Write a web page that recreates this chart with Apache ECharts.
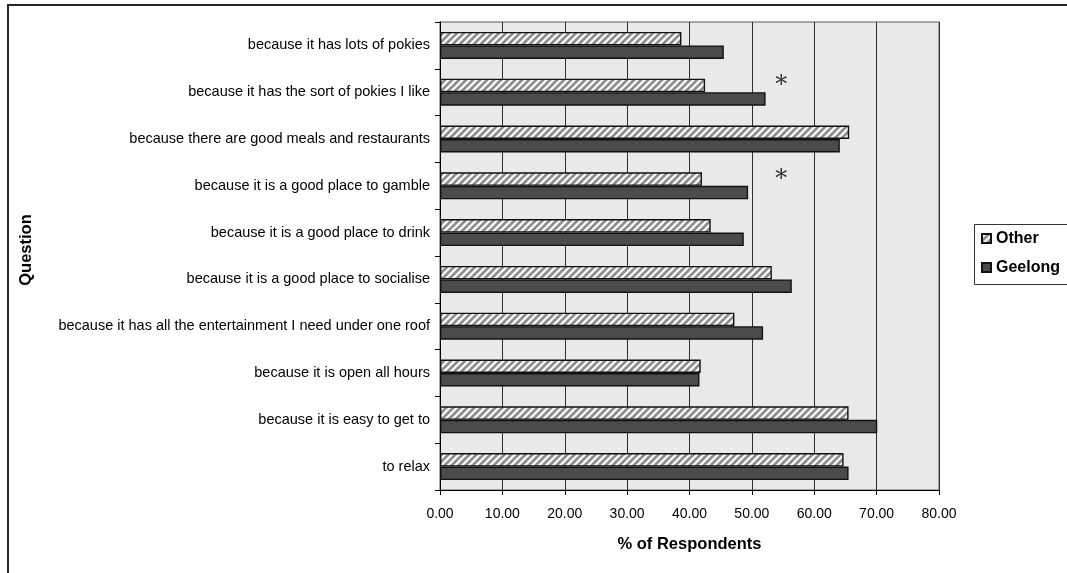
<!DOCTYPE html>
<html>
<head>
<meta charset="utf-8">
<style>
  html, body { margin: 0; padding: 0; background: #fff; }
  #chart { width: 1067px; height: 573px; }
</style>
<script src="https://cdn.jsdelivr.net/npm/echarts@6/dist/echarts.min.js"></script>
</head>
<body>
<div id="chart"></div>
<script>
// Reasons for choosing the venue, listed top to bottom
const questions = [
  'because it has lots of pokies',
  'because it has the sort of pokies I like',
  'because there are good meals and restaurants',
  'because it is a good place to gamble',
  'because it is a good place to drink',
  'because it is a good place to socialise',
  'because it has all the entertainment I need under one roof',
  'because it is open all hours',
  'because it is easy to get to',
  'to relax'
];
// % of respondents agreeing
const otherValues   = [38.7, 42.5, 65.6, 42.0, 43.4, 53.2, 47.2, 41.8, 65.5, 64.7];
const geelongValues = [45.5, 52.2, 64.1, 49.4, 48.7, 56.4, 51.8, 41.6, 70.1, 65.5];
// Significant differences flagged with an asterisk
const significantMarks = [
  [54.7, 'because it has the sort of pokies I like'],
  [54.7, 'because it is a good place to gamble']
];
const seriesNames = ['Other', 'Geelong'];

// Diagonal hatch fill for the "Other" bars
function hatchPattern() {
  const s = 7;
  const c = document.createElement('canvas');
  c.width = s; c.height = s;
  const g = c.getContext('2d');
  g.fillStyle = '#ffffff';
  g.fillRect(0, 0, s, s);
  g.strokeStyle = '#8f8f8f';
  g.lineWidth = 2.8;
  g.beginPath();
  g.moveTo(-1, s + 1); g.lineTo(s + 1, -1);
  g.moveTo(-1, 1); g.lineTo(1, -1);
  g.moveTo(s - 1, s + 1); g.lineTo(s + 1, s - 1);
  g.stroke();
  return { image: c, repeat: 'repeat' };
}

const FONT = '"Liberation Sans", Arial, sans-serif';
const chart = echarts.init(document.getElementById('chart'), null, { renderer: 'canvas' });

chart.setOption({
  animation: false,
  backgroundColor: '#ffffff',
  textStyle: { fontFamily: FONT, color: '#000' },
  graphic: [
    {
      // outer chart frame
      type: 'rect',
      shape: { x: 8, y: 5, width: 1200, height: 700 },
      style: { fill: 'none', stroke: '#262626', lineWidth: 2 },
      silent: true
    },
    {
      // legend frame, running past the right edge
      type: 'rect',
      shape: { x: 974.5, y: 224.5, width: 200, height: 60 },
      style: { fill: 'none', stroke: '#333', lineWidth: 1 },
      silent: true
    }
  ],
  grid: {
    left: 440, top: 22, right: 128, bottom: 83,
    show: true,
    backgroundColor: '#e9e9e9',
    borderColor: '#8c8c8c',
    borderWidth: 1.5
  },
  legend: {
    data: seriesNames,
    orient: 'vertical',
    left: 974, top: 224,
    padding: [5, 5, 5, 7],
    itemWidth: 9, itemHeight: 9,
    itemGap: 10,
    itemTextGap: 6,
    icon: 'rect',
    textStyle: { fontFamily: FONT, fontSize: 16, fontWeight: 'bold', color: '#000', lineHeight: 19 }
  },
  xAxis: {
    type: 'value',
    min: 0, max: 80, interval: 10,
    name: '% of Respondents',
    nameLocation: 'middle',
    nameGap: 46,
    nameTextStyle: { fontFamily: FONT, fontSize: 16.5, fontWeight: 'bold', color: '#000' },
    axisLine: { show: true, lineStyle: { color: '#000', width: 1 } },
    axisTick: { show: true, length: 5, lineStyle: { color: '#000' } },
    axisLabel: {
      fontFamily: FONT, fontSize: 14, color: '#000', margin: 17,
      formatter: v => v.toFixed(2)
    },
    splitLine: { show: true, lineStyle: { color: '#2e2e2e', width: 1 } }
  },
  yAxis: {
    type: 'category',
    inverse: true,
    data: questions,
    name: 'Question',
    nameLocation: 'middle',
    nameGap: 405,
    nameRotate: 90,
    nameTextStyle: { fontFamily: FONT, fontSize: 16.5, fontWeight: 'bold', color: '#000', padding: [0, 0, 0, 12] },
    axisLine: { show: true, lineStyle: { color: '#000', width: 1 } },
    axisTick: { show: true, length: 5, lineStyle: { color: '#000' } },
    axisLabel: { fontFamily: FONT, fontSize: 14.5, color: '#000', margin: 10 },
    splitLine: { show: false }
  },
  series: [
    {
      name: 'Other',
      type: 'bar',
      data: otherValues,
      barWidth: 13.5,
      barGap: '0%',
      itemStyle: { color: hatchPattern(), borderColor: '#111', borderWidth: 1.4 }
    },
    {
      name: 'Geelong',
      type: 'bar',
      data: geelongValues,
      barWidth: 13.5,
      barGap: '0%',
      itemStyle: { color: '#4b4b4b', borderColor: '#111', borderWidth: 1.4 }
    },
    {
      name: 'significance',
      type: 'scatter',
      data: significantMarks,
      symbolSize: 0,
      silent: true,
      label: {
        show: true,
        position: 'inside',
        offset: [0, -6],
        formatter: '*',
        fontFamily: '"DejaVu Serif", "Liberation Serif", serif',
        fontSize: 24,
        color: '#000'
      }
    }
  ]
});
</script>
</body>
</html>
